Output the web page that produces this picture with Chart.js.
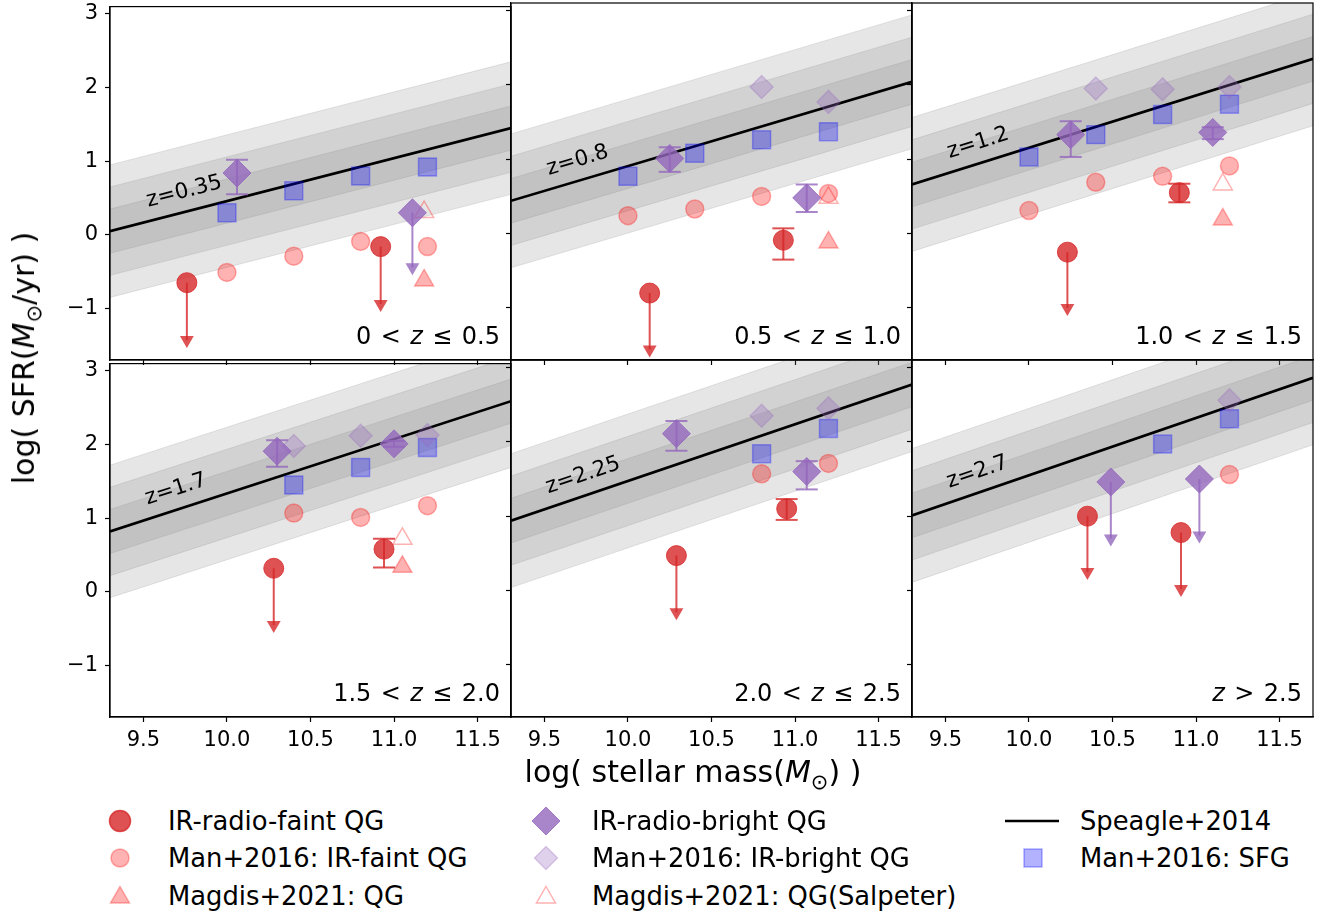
<!DOCTYPE html>
<html>
<head>
<meta charset="utf-8">
<script src="https://cdn.jsdelivr.net/npm/chart.js@4.4.0/dist/chart.umd.min.js"></script>
<style>
  body { margin: 0; background: #fff; font-family: "DejaVu Sans", sans-serif; }
  #fig { position: relative; width: 1330px; height: 915px; overflow: hidden; }
  canvas.panel { position: absolute; }
  .axlabel { position: absolute; font-size: 30px; white-space: nowrap; color: #000; }
  .leg { position: absolute; font-size: 25.8px; line-height: 30px; white-space: nowrap; color: #000; }
  .mark { position: absolute; }
  sub { font-size: 0.7em; }
</style>
</head>
<body>
<div id="fig"></div>
<script>
// ---- data ----
const massTicks = [9.5, 10.0, 10.5, 11.0, 11.5];
const sfrTicks = [-1, 0, 1, 2, 3];
const massRange = [9.3, 11.7];
const sfrRange = [-1.7, 3.1];

const zRanges = [['0 <', '\u2264 0.5'], ['0.5 <', '\u2264 1.0'], ['1.0 <', '\u2264 1.5'],
                 ['1.5 <', '\u2264 2.0'], ['2.0 <', '\u2264 2.5'], ['', '> 2.5']];
const msLabels = ['z=0.35', 'z=0.8', 'z=1.2', 'z=1.7', 'z=2.25', 'z=2.7'];
// Speagle+2014 main sequence: log SFR at the left (9.3) and right (11.7) mass edge
const msLeft = [0.05, 0.44, 0.66, 0.82, 0.94, 1.01];
const msRight = [1.45, 2.04, 2.35, 2.59, 2.77, 2.86];
const msScatter = [0.3, 0.6, 0.9];

// IR-radio-faint / bright QG: [mass, sfr, low, high]; high = null -> upper limit arrow down to low
const irFaint = [
  [[9.76, -0.65, -1.43, null], [10.92, -0.16, -0.94, null]],
  [[10.13, -0.80, -1.56, null], [10.93, -0.09, -0.35, 0.07]],
  [[10.23, -0.25, -1.00, null], [10.90, 0.55, 0.42, 0.67]],
  [[10.28, 0.32, -0.45, null], [10.94, 0.58, 0.33, 0.72]],
  [[10.29, 0.47, -0.29, null], [10.95, 1.10, 0.95, 1.23]],
  [[10.35, 1.00, 0.25, null], [10.91, 0.78, 0.02, null]]
];
const irBright = [
  [[10.06, 0.84, 0.55, 1.02], [11.11, 0.30, -0.44, null]],
  [[10.25, 1.01, 0.83, 1.16], [11.07, 0.48, 0.29, 0.66]],
  [[10.25, 1.33, 1.03, 1.51], [11.10, 1.36, 1.27, 1.43]],
  [[10.30, 1.91, 1.70, 2.06], [11.00, 2.01, 1.97, 2.05]],
  [[10.29, 2.11, 1.88, 2.28], [11.07, 1.60, 1.36, 1.74]],
  [[10.49, 1.46, 0.70, null], [11.02, 1.50, 0.74, null]]
];

// Man+2016 stacks
const manMass = [10.0, 10.4, 10.8, 11.2];
const manFaint = [
  [-0.51, -0.29, -0.09, -0.16],
  [0.24, 0.33, 0.50, 0.54],
  [0.31, 0.69, 0.77, 0.91],
  [null, 1.07, 1.01, 1.17],
  [null, null, 1.57, 1.71],
  [null, null, null, 1.56]
];
const manBright = [
  [null, null, null, null],
  [null, null, 1.97, 1.77],
  [null, 1.95, 1.94, 1.97],
  [null, 1.98, 2.12, 2.13],
  [null, null, 2.35, 2.45],
  [null, null, null, 2.56]
];
const manSFG = [
  [0.30, 0.60, 0.80, 0.92],
  [0.77, 1.08, 1.26, 1.37],
  [1.03, 1.33, 1.60, 1.74],
  [null, 1.45, 1.69, 1.96],
  [null, null, 1.84, 2.18],
  [null, null, 1.97, 2.31]
];

// Magdis+2021
const magdisMass = [11.18, 11.20, 11.16, 11.05, null, null];
const magdisQG = [-0.62, -0.12, 0.19, 0.34, null, null];
const magdisSalp = [0.31, 0.48, 0.66, 0.72, null, null];

// ---- styling ----
const RED = 'rgba(214,39,40,0.8)';
const PURPLE = 'rgba(148,103,189,0.8)';
const LIGHTRED = 'rgba(255,0,0,0.3)';
const LIGHTPURPLE = 'rgba(148,103,189,0.3)';
const LIGHTBLUE = 'rgba(0,0,255,0.3)';
const BAND = 'rgba(128,128,128,0.2)';
const FONT = '"DejaVu Sans", sans-serif';

const PANEL_X = [110, 511, 912];
const PANEL_Y = [3, 360];
const PANEL_W = 401, PANEL_H = 357;
const L = 70, T = 16, R = 16, B = 48;

const framePlugin = {
  id: 'frame',
  afterDatasetsDraw(chart, args, opts) {
    const { ctx, chartArea: a } = chart;
    const xs = chart.scales.x, ys = chart.scales.y;
    ctx.save();
    ctx.strokeStyle = '#000';
    ctx.lineWidth = 1.2;
    ctx.strokeRect(a.left, a.top, a.width, a.height);

    // main-sequence label along the line
    const p0 = { x: xs.getPixelForValue(massRange[0]), y: ys.getPixelForValue(opts.ms[0]) };
    const p1 = { x: xs.getPixelForValue(massRange[1]), y: ys.getPixelForValue(opts.ms[1]) };
    const ang = Math.atan2(p1.y - p0.y, p1.x - p0.x);
    const tx = xs.getPixelForValue(9.55);
    const ty = p0.y + (tx - p0.x) * Math.tan(ang);
    ctx.translate(tx, ty);
    ctx.rotate(ang);
    ctx.fillStyle = '#000';
    ctx.font = '21.5px ' + FONT;
    ctx.textBaseline = 'alphabetic';
    ctx.fillText(opts.msLabel, 0, -14);
    ctx.setTransform(1, 0, 0, 1, 0, 0);

    // redshift range, bottom right (math-style spacing around relations)
    const up = '24px ' + FONT, it = 'italic 24px ' + FONT;
    const gap = 1.8;
    const pre = opts.range[0] ? opts.range[0] + ' ' : '';
    const post = ' ' + opts.range[1];
    ctx.font = up;
    const wPre = ctx.measureText(pre).width + (pre ? 2 * gap : 0);
    const wPost = ctx.measureText(post).width + 2 * gap;
    ctx.font = it;
    const wZ = ctx.measureText('z').width;
    let x = a.right - 11 - (wPre + wZ + wPost);
    const y = a.bottom - 16;
    ctx.font = up;
    if (pre) {
      const rel = opts.range[0].split(' ');
      ctx.fillText(rel[0], x, y);
      ctx.fillText(rel[1], x + ctx.measureText(rel[0] + ' ').width + gap, y);
    }
    x += wPre;
    ctx.font = it; ctx.fillText('z', x, y); x += wZ;
    ctx.font = up;
    const relPost = opts.range[1].split(' ');
    ctx.fillText(relPost[0], x + ctx.measureText(' ').width + gap, y);
    ctx.fillText(relPost[1], x + ctx.measureText(' ' + relPost[0] + ' ').width + 2 * gap, y);
    ctx.restore();
  }
};

function pts(xsArr, ysArr) {
  return xsArr.map((m, i) => ({ x: m, y: ysArr[i] })).filter(d => d.x !== null && d.y !== null);
}

function scatterSet(data, style, radius, fill, edge, edgeW) {
  return {
    type: 'scatter', data, pointStyle: style, pointRadius: radius, pointHoverRadius: radius,
    pointBackgroundColor: fill, pointBorderColor: edge, pointBorderWidth: edgeW
  };
}

function barSets(list, color) {
  const out = [];
  list.forEach(([m, s, lo, hi]) => {
    if (hi === null) {
      out.push({
        type: 'line', showLine: true, data: [{ x: m, y: s }, { x: m, y: lo }],
        borderColor: color, borderWidth: 2,
        pointStyle: ['circle', 'triangle'], pointRadius: [0, 8], pointHoverRadius: [0, 8],
        pointRotation: [0, 180], pointBackgroundColor: color, pointBorderColor: color, pointBorderWidth: 0
      });
    } else {
      out.push({
        type: 'line', showLine: true, data: [{ x: m, y: lo }, { x: m, y: hi }],
        borderColor: color, borderWidth: 2,
        pointStyle: 'line', pointRadius: 11, pointHoverRadius: 11,
        pointBorderColor: color, pointBorderWidth: 2
      });
    }
  });
  return out;
}

function panelDatasets(p) {
  const ds = [];
  const y0 = msLeft[p], y1 = msRight[p];
  msScatter.forEach(s => {
    ds.push({ type: 'line', data: [{ x: massRange[0], y: y0 - s }, { x: massRange[1], y: y1 - s }],
      borderColor: BAND, borderWidth: 1, pointRadius: 0, fill: false });
    ds.push({ type: 'line', data: [{ x: massRange[0], y: y0 + s }, { x: massRange[1], y: y1 + s }],
      borderColor: BAND, borderWidth: 1, pointRadius: 0, backgroundColor: BAND, fill: '-1' });
  });
  ds.push({ type: 'line', data: [{ x: massRange[0], y: y0 }, { x: massRange[1], y: y1 }],
    borderColor: '#000', borderWidth: 2.6, pointRadius: 0, fill: false });

  ds.push(scatterSet(pts(manMass, manSFG[p]), 'rect', 12.7, LIGHTBLUE, LIGHTBLUE, 1.5));
  ds.push(scatterSet(pts(manMass, manFaint[p]), 'circle', 9, LIGHTRED, LIGHTRED, 1.5));
  ds.push(scatterSet(pts(manMass, manBright[p]), 'rectRot', 11.5, LIGHTPURPLE, LIGHTPURPLE, 1.5));
  ds.push(scatterSet(pts([magdisMass[p]], [magdisQG[p]]), 'triangle', 11, LIGHTRED, LIGHTRED, 1.5));
  ds.push(scatterSet(pts([magdisMass[p]], [magdisSalp[p]]), 'triangle', 11, 'rgba(0,0,0,0)', LIGHTRED, 1.5));

  ds.push(scatterSet(irFaint[p].map(d => ({ x: d[0], y: d[1] })), 'circle', 10, RED, RED, 1));
  ds.push(scatterSet(irBright[p].map(d => ({ x: d[0], y: d[1] })), 'rectRot', 14, PURPLE, PURPLE, 1));
  barSets(irFaint[p], RED).forEach(d => ds.push(d));
  barSets(irBright[p], PURPLE).forEach(d => ds.push(d));

  // first in list is drawn first (bottom)
  ds.forEach((d, i) => { d.order = ds.length - i; });
  return ds;
}

const fig = document.getElementById('fig');

for (let p = 0; p < 6; p++) {
  const col = p % 3, row = Math.floor(p / 3);
  const cv = document.createElement('canvas');
  cv.className = 'panel';
  cv.width = L + PANEL_W + R;
  cv.height = T + PANEL_H + B;
  cv.style.left = (PANEL_X[col] - L) + 'px';
  cv.style.top = (PANEL_Y[row] - T) + 'px';
  fig.appendChild(cv);

  new Chart(cv.getContext('2d'), {
    type: 'scatter',
    data: { datasets: panelDatasets(p) },
    options: {
      responsive: false,
      animation: false,
      devicePixelRatio: 1,
      events: [],
      layout: { padding: { top: T, right: R, left: 0, bottom: 0 } },
      plugins: {
        legend: { display: false },
        tooltip: { enabled: false },
        frame: { ms: [msLeft[p], msRight[p]], msLabel: msLabels[p], range: zRanges[p] }
      },
      scales: {
        x: {
          type: 'linear', min: massRange[0], max: massRange[1],
          afterBuildTicks: s => { s.ticks = massTicks.map(v => ({ value: v })); },
          afterFit: s => { s.height = B; },
          grid: { drawOnChartArea: false, drawTicks: true, tickLength: 5, tickColor: '#000', tickWidth: 1.2 },
          border: { display: true, color: '#000', width: 1.2 },
          ticks: {
            display: row === 1, color: '#000', padding: 6, maxRotation: 0, autoSkip: false,
            font: { family: FONT, size: 21 },
            callback: v => Number(v).toFixed(1)
          }
        },
        y: {
          type: 'linear', min: sfrRange[0], max: sfrRange[1],
          afterBuildTicks: s => { s.ticks = sfrTicks.map(v => ({ value: v })); },
          afterFit: s => { s.width = L; },
          grid: { drawOnChartArea: false, drawTicks: true, tickLength: 5, tickColor: '#000', tickWidth: 1.2 },
          border: { display: true, color: '#000', width: 1.2 },
          ticks: {
            display: col === 0, color: '#000', padding: 7,
            font: { family: FONT, size: 21 },
            callback: v => (v < 0 ? '\u2212' + Math.abs(v) : String(v))
          }
        }
      }
    },
    plugins: [framePlugin]
  });
}

// axis labels
const xl = document.createElement('div');
xl.className = 'axlabel';
xl.innerHTML = 'log( stellar mass(<i>M</i><sub>\u2299</sub>) )';
xl.style.left = '693px'; xl.style.top = '774px';
xl.style.transform = 'translate(-50%, -50%)';
fig.appendChild(xl);

const yl = document.createElement('div');
yl.className = 'axlabel';
yl.innerHTML = 'log( SFR(<i>M</i><sub>\u2299</sub>/yr) )';
yl.style.left = '26px'; yl.style.top = '358px';
yl.style.transform = 'translate(-50%, -50%) rotate(-90deg)';
fig.appendChild(yl);

// legend
function svgMarker(shape, fill, edge) {
  let body = '';
  if (shape === 'circle') body = `<circle cx="20" cy="20" r="10.5" fill="${fill}" stroke="${edge}" stroke-width="1.5"/>`;
  if (shape === 'small') body = `<circle cx="20" cy="20" r="9" fill="${fill}" stroke="${edge}" stroke-width="1.5"/>`;
  if (shape === 'tri') body = `<polygon points="20,10.5 29.5,27 10.5,27" fill="${fill}" stroke="${edge}" stroke-width="1.5"/>`;
  if (shape === 'dia') body = `<polygon points="20,6 34,20 20,34 6,20" fill="${fill}" stroke="${edge}" stroke-width="1"/>`;
  if (shape === 'sdia') body = `<polygon points="20,8.5 31.5,20 20,31.5 8.5,20" fill="${fill}" stroke="${edge}" stroke-width="1.5"/>`;
  if (shape === 'sq') body = `<rect x="11" y="11" width="18" height="18" fill="${fill}" stroke="${edge}" stroke-width="1.5"/>`;
  if (shape === 'line') return `<svg width="60" height="40"><line x1="3" y1="20" x2="57" y2="20" stroke="#000" stroke-width="2.6"/></svg>`;
  return `<svg width="40" height="40">${body}</svg>`;
}

const legendItems = [
  [120, 168, 821, 'circle', RED, RED, 'IR-radio-faint QG'],
  [120, 168, 858, 'small', LIGHTRED, LIGHTRED, 'Man+2016: IR-faint QG'],
  [120, 168, 896, 'tri', LIGHTRED, LIGHTRED, 'Magdis+2021: QG'],
  [546, 592, 821, 'dia', PURPLE, PURPLE, 'IR-radio-bright QG'],
  [546, 592, 858, 'sdia', LIGHTPURPLE, LIGHTPURPLE, 'Man+2016: IR-bright QG'],
  [546, 592, 896, 'tri', 'none', LIGHTRED, 'Magdis+2021: QG(Salpeter)'],
  [1032, 1080, 821, 'line', '', '', 'Speagle+2014'],
  [1033, 1080, 858, 'sq', LIGHTBLUE, LIGHTBLUE, 'Man+2016: SFG']
];
legendItems.forEach(([mx, tx, cy, shape, fill, edge, text]) => {
  const m = document.createElement('div');
  m.className = 'mark';
  m.innerHTML = svgMarker(shape, fill, edge);
  const w = shape === 'line' ? 60 : 40;
  m.style.left = (mx - w / 2) + 'px';
  m.style.top = (cy - 20) + 'px';
  m.style.height = '40px';
  fig.appendChild(m);
  const t = document.createElement('div');
  t.className = 'leg';
  t.textContent = text;
  t.style.left = tx + 'px';
  t.style.top = (cy - 15) + 'px';
  fig.appendChild(t);
});
</script>
</body>
</html>
